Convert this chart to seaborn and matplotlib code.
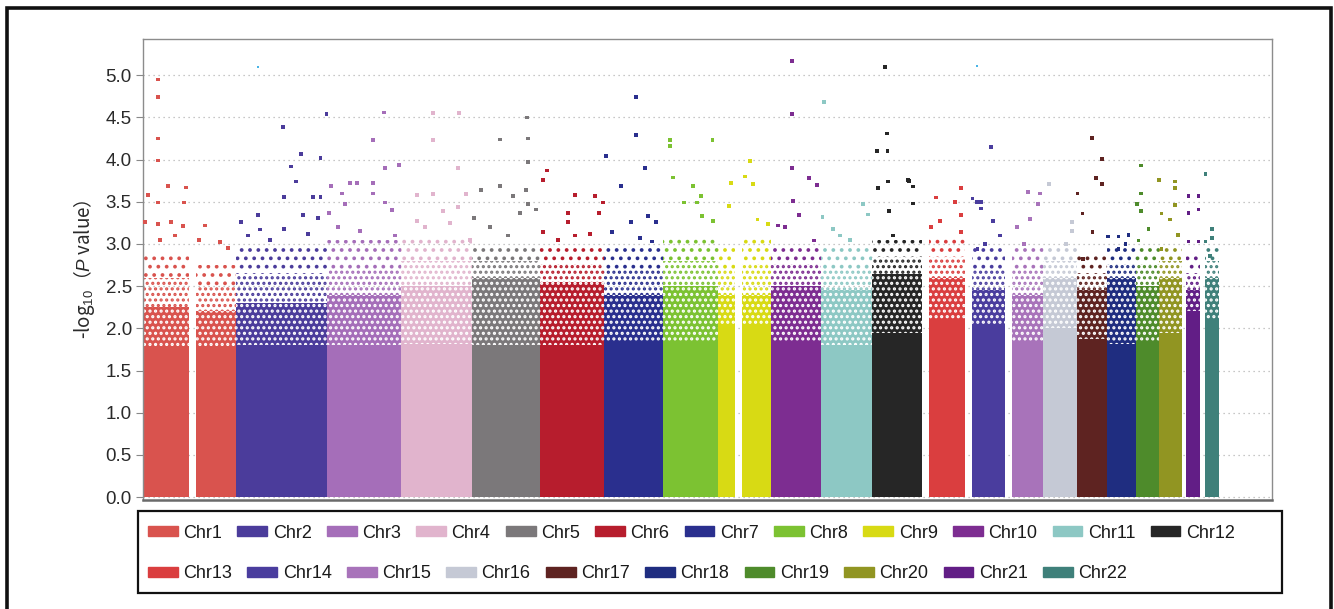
import numpy as np
import pandas as pd
import matplotlib
matplotlib.use("Agg")
import matplotlib.pyplot as plt
from matplotlib.patches import Patch, Rectangle
import seaborn as sns

# ---------------- data ----------------
chroms = [f"Chr{i}" for i in range(1, 23)]
chrom_colors = ["#D9534E", "#4B3C9B", "#A56EB9", "#E1B4CD", "#7B787A", "#B71D2D",
                "#2A2F8E", "#7CC232", "#D8DA14", "#7D2D91", "#8DC8C4", "#262626",
                "#DA3E3F", "#4A3D9E", "#A873BA", "#C5C9D5", "#5E2321", "#1F2D80",
                "#4E8B2B", "#919522", "#621E86", "#3F807A"]
chrom_len_mb = [249.25, 243.2, 198.0, 191.15, 180.9, 171.1, 159.1, 146.4, 141.2,
                135.5, 135.0, 133.85, 115.2, 107.3, 102.5, 90.35, 81.2, 78.1,
                59.1, 63.0, 48.1, 51.3]

# SNP-covered segments (Mb within chromosome) and the -log10 P levels of
# the solid core, the dense band, the medium band and the sparse band
seg_chrom = ["Chr1", "Chr1", "Chr2", "Chr3", "Chr4", "Chr5", "Chr6", "Chr7", "Chr8",
             "Chr9", "Chr9", "Chr10", "Chr11", "Chr12", "Chr13", "Chr14", "Chr15",
             "Chr16", "Chr17", "Chr18", "Chr19", "Chr20", "Chr21", "Chr22"]
seg_start = [0, 143, 0, 0, 0, 0, 0, 0, 0, 0, 65, 0, 0, 0, 19, 20, 20, 0, 0, 0, 0, 0, 9.5, 14]
seg_end = [122, 249.25, 243.2, 198.0, 191.15, 180.9, 171.1, 159.1, 146.4, 45, 141.2,
           135.5, 135.0, 133.85, 115.2, 107.3, 102.5, 90.35, 81.2, 78.1, 59.1, 63.0, 48.1, 51.3]
seg_solid = [1.78, 1.78, 1.80, 1.80, 1.82, 1.80, 1.80, 1.85, 1.85, 2.05, 2.05, 1.85,
             1.80, 1.95, 2.10, 2.05, 1.85, 2.00, 1.87, 1.82, 1.85, 1.95, 2.20, 2.10]
seg_dense = [2.25, 2.20, 2.30, 2.40, 2.50, 2.60, 2.55, 2.40, 2.50, 2.40, 2.40, 2.50,
             2.45, 2.65, 2.60, 2.45, 2.40, 2.60, 2.45, 2.60, 2.50, 2.60, 2.45, 2.60]
seg_medium = [2.60, 2.50, 2.65, 2.70, 2.80, 2.80, 2.75, 2.70, 2.80, 2.70, 2.75, 2.75,
              2.70, 2.85, 2.85, 2.70, 2.70, 2.80, 2.65, 2.75, 2.75, 2.80, 2.65, 2.80]
seg_sparse = [2.90, 2.75, 3.00, 3.05, 3.10, 3.00, 3.00, 3.00, 3.10, 3.00, 3.10, 3.00,
              3.00, 3.05, 3.10, 3.00, 3.00, 3.00, 2.90, 2.95, 3.00, 3.00, 2.90, 2.95]

# individual top SNPs (chromosome, position in Mb, -log10 P)
peak_chrom = (["Chr1"] * 19 + ["Chr2"] * 18 + ["Chr3"] * 17 + ["Chr4"] * 13 +
              ["Chr5"] * 14 + ["Chr6"] * 12 + ["Chr7"] * 11 + ["Chr8"] * 10 +
              ["Chr9"] * 7 + ["Chr10"] * 10 + ["Chr11"] * 7 + ["Chr12"] * 12 +
              ["Chr13"] * 7 + ["Chr14"] * 9 + ["Chr15"] * 6 + ["Chr16"] * 4 +
              ["Chr17"] * 8 + ["Chr18"] * 5 + ["Chr19"] * 6 + ["Chr20"] * 8 +
              ["Chr21"] * 6 + ["Chr22"] * 5)
peak_pos = [39.4, 39.4, 39.4, 39.4, 39.4, 39.4, 66.9, 13.4, 115.0, 109.8, 107.0, 5.4,
            75.0, 166.0, 150.0, 206.0, 85.7, 45.5, 227.0,
            125.5, 173.7, 226.2, 147.0, 160.3, 128.2, 205.0, 226.2, 58.6, 13.0, 178.3,
            218.4, 128.2, 64.0, 90.7, 32.0, 192.5, 242.0,
            152.7, 123.3, 155.3, 192.8, 10.8, 61.7, 79.6, 123.3, 123.3, 39.5, 48.3,
            155.3, 173.3, 5.5, 88.5, 29.6, 182.0,
            85.9, 85.9, 85.9, 155.5, 152.8, 152.8, 42.2, 174.2, 112.6, 43.0, 64.5, 131.3, 185.0,
            146.4, 74.1, 74.1, 148.2, 148.2, 148.2, 22.4, 108.9, 143.7, 170.4, 4.4, 127.6, 47.3, 95.5,
            18.9, 7.5, 94.0, 94.0, 147.5, 168.9, 158.2, 75.2, 75.2, 8.3, 134.1, 48.4,
            86.4, 86.4, 5.8, 110.3, 45.2, 139.7, 72.0, 21.1, 118.3, 96.9, 129.0,
            18.1, 18.1, 132.1, 26.1, 79.7, 101.1, 55.6, 90.4, 132.4, 103.7,
            85.8, 72.4, 93.8, 34.9, 29.6, 105.8, 133.9,
            56.3, 56.3, 56.3, 102.6, 123.2, 59.7, 75.8, 18.7, 115.9, 38.3,
            7.2, 110.8, 3.0, 31.2, 76.7, 125.0, 50.0,
            35.5, 40.1, 13.3, 41.7, 99.8, 109.7, 109.7, 42.8, 16.0, 45.5, 57.0, 97.1,
            105.1, 105.1, 105.1, 37.4, 49.0, 24.9, 89.0,
            70.3, 20.5, 32.7, 43.4, 43.4, 75.5, 33.5, 54.0, 94.3,
            61.2, 94.1, 88.0, 31.7, 51.3, 67.3,
            15.4, 76.9, 76.9, 61.0,
            39.7, 66.5, 66.5, 51.2, 1.1, 14.5, 41.2, 15.6,
            1.0, 29.7, 56.5, 29.7, 48.5,
            11.9, 11.9, 11.9, 1.0, 32.1, 5.3,
            1.0, 44.5, 44.5, 44.5, 7.6, 30.6, 52.1, 7.6,
            16.9, 16.9, 16.9, 43.6, 43.6, 43.6,
            14.5, 32.8, 32.8, 14.9, 26.5]
peak_val = [4.95, 4.74, 4.25, 3.99, 3.49, 3.24, 3.69, 3.58, 3.67, 3.49, 3.21, 3.26,
            3.26, 3.22, 3.05, 3.02, 3.10, 3.05, 2.95,
            4.39, 4.07, 4.02, 3.92, 3.74, 3.56, 3.56, 3.56, 3.34, 3.26, 3.34,
            3.31, 3.18, 3.17, 3.05, 3.10, 3.12, 4.54,
            4.56, 4.23, 3.90, 3.94, 3.69, 3.72, 3.72, 3.72, 3.60, 3.60, 3.47,
            3.49, 3.40, 3.37, 3.15, 3.20, 3.10,
            4.55, 4.23, 3.59, 4.55, 3.90, 3.44, 3.58, 3.59, 3.39, 3.27, 3.20, 3.25, 3.05,
            4.50, 4.24, 3.69, 4.25, 3.97, 3.47, 3.64, 3.57, 3.64, 3.41, 3.31, 3.37, 3.20, 3.10,
            3.87, 3.76, 3.58, 3.10, 3.57, 3.49, 3.37, 3.37, 3.26, 3.14, 3.12, 3.05,
            4.74, 4.29, 4.04, 3.90, 3.69, 3.26, 3.26, 3.14, 3.33, 3.07, 3.03,
            4.23, 4.16, 4.23, 3.79, 3.69, 3.57, 3.49, 3.49, 3.27, 3.33,
            3.98, 3.80, 3.71, 3.72, 3.45, 3.29, 3.24,
            5.17, 4.54, 3.90, 3.78, 3.70, 3.51, 3.34, 3.22, 3.04, 3.20,
            4.68, 3.47, 3.32, 3.18, 3.05, 3.35, 3.10,
            5.10, 4.31, 4.10, 4.10, 3.75, 3.68, 3.48, 3.74, 3.66, 3.39, 3.10, 3.76,
            3.66, 3.34, 3.14, 3.55, 3.27, 3.20, 3.50,
            4.15, 3.54, 3.50, 3.50, 3.42, 3.27, 2.94, 3.00, 3.10,
            3.62, 3.60, 3.47, 3.20, 3.00, 3.30,
            3.71, 3.26, 3.15, 3.00,
            4.26, 4.01, 3.71, 3.78, 3.60, 3.36, 3.14, 2.82,
            3.09, 3.09, 3.11, 2.94, 3.00,
            3.93, 3.60, 3.39, 3.47, 3.18, 3.04,
            3.76, 3.74, 3.66, 3.46, 3.36, 3.29, 3.11, 2.94,
            3.57, 3.37, 3.03, 3.57, 3.41, 3.03,
            3.83, 3.18, 3.07, 3.03, 2.86]

# two light-blue highlighted markers
mark_chrom = ["Chr2", "Chr14"]
mark_pos = [57.8, 32.0]
mark_val = [5.10, 5.11]

yticks = [0.0, 0.5, 1.0, 1.5, 2.0, 2.5, 3.0, 3.5, 4.0, 4.5, 5.0]
ylabel = "-log$_{10}$（$P$ value）"

# ---------------- derived tables ----------------
offsets = dict(zip(chroms, np.concatenate([[0], np.cumsum(chrom_len_mb)[:-1]])))
palette = dict(zip(chroms, chrom_colors))
segs = pd.DataFrame({"chrom": seg_chrom, "start": seg_start, "end": seg_end,
                     "solid": seg_solid, "dense": seg_dense, "medium": seg_medium,
                     "sparse": seg_sparse})
segs["x0"] = segs["start"] + segs["chrom"].map(offsets)
segs["w"] = segs["end"] - segs["start"]
peaks = pd.DataFrame({"chrom": peak_chrom, "pos": peak_pos, "val": peak_val})
peaks["x"] = peaks["pos"] + peaks["chrom"].map(offsets)
marks = pd.DataFrame({"chrom": mark_chrom, "pos": mark_pos, "val": mark_val})
marks["x"] = marks["pos"] + marks["chrom"].map(offsets)

# ---------------- style ----------------
sns.set_theme(style="white")
plt.rcParams["font.family"] = ["Liberation Sans", "DejaVu Sans"]
plt.rcParams["mathtext.fontset"] = "custom"
plt.rcParams["mathtext.rm"] = "Liberation Sans"
plt.rcParams["mathtext.it"] = "Liberation Sans:italic"
plt.rcParams["hatch.linewidth"] = 1.5

W, H = 1334, 609
fig = plt.figure(figsize=(W / 100, H / 100), dpi=100)
ax = fig.add_axes([143 / W, (H - 500) / H, 1129 / W, 461 / H])

for _, r in segs.iterrows():
    c = palette[r["chrom"]]
    # solid core
    ax.bar(r["x0"], r["solid"], width=r["w"], bottom=0, align="edge",
           color=c, linewidth=0, zorder=2)
    # dense band: colour with white gaps
    ax.bar(r["x0"], r["dense"] - r["solid"], width=r["w"], bottom=r["solid"],
           align="edge", facecolor=c, edgecolor="white", hatch="...",
           linewidth=0, zorder=2)
    # medium band: many scattered points
    ax.bar(r["x0"], r["medium"] - r["dense"], width=r["w"], bottom=r["dense"],
           align="edge", facecolor="none", edgecolor=c, hatch="...",
           linewidth=0, zorder=2)
    # sparse band: few scattered points
    ax.bar(r["x0"], r["sparse"] - r["medium"], width=r["w"], bottom=r["medium"],
           align="edge", facecolor="none", edgecolor=c, hatch="..",
           linewidth=0, zorder=2)

sns.scatterplot(data=peaks, x="x", y="val", hue="chrom", palette=palette,
                marker="s", s=7, linewidth=0, legend=False, ax=ax, zorder=3)
sns.scatterplot(data=marks, x="x", y="val", color="#49B4E6", marker="s", s=4,
                linewidth=0, legend=False, ax=ax, zorder=3)

ax.set_xlim(0, 3022)
ax.set_ylim(-0.035, 5.43)
ax.set_xticks([])
ax.set_yticks(yticks)
ax.set_yticklabels([f"{t:.1f}" for t in yticks], fontsize=13.5, color="#2a2a2a")
ax.tick_params(axis="y", direction="out", length=5, width=0.8, color="#888888", pad=3, left=True)
ax.set_xlabel("")
ax.set_ylabel(ylabel, fontsize=13.5, color="#2a2a2a", labelpad=6,
              family=["Noto Sans CJK SC", "DejaVu Sans"])
ax.set_axisbelow(True)
ax.grid(axis="y", color="#b5b5b5", linestyle=(0, (1, 3)), linewidth=0.9)
ax.grid(axis="x", visible=False)
for s in ["left", "right", "top"]:
    ax.spines[s].set_color("#8c8c8c")
    ax.spines[s].set_linewidth(1.0)
ax.spines["bottom"].set_color("#6a6a6a")
ax.spines["bottom"].set_linewidth(1.8)

# legends (two rows)
leg_kw = dict(loc="center left", frameon=False, fontsize=13, handlelength=1.65,
              handleheight=0.45, handletextpad=0.3, columnspacing=0.85,
              borderpad=0, borderaxespad=0)
h1 = [Patch(facecolor=palette[n], edgecolor=palette[n], label=n) for n in chroms[:12]]
h2 = [Patch(facecolor=palette[n], edgecolor=palette[n], label=n) for n in chroms[12:]]
leg1 = fig.legend(handles=h1, ncol=12, bbox_to_anchor=(148 / W, 1 - 533 / H), **leg_kw)
leg2 = fig.legend(handles=h2, ncol=10, bbox_to_anchor=(148 / W, 1 - 574 / H), **leg_kw)
for lg in (leg1, leg2):
    for t in lg.get_texts():
        t.set_color("#1a1a1a")

# legend frame and outer frame
fig.add_artist(Rectangle((138 / W, 1 - 593 / H), 1144 / W, 82 / H, transform=fig.transFigure,
                         fill=False, edgecolor="#111111", linewidth=1.6))
fig.add_artist(Rectangle((7 / W, -0.05), 1324 / W, 1 - 8 / H + 0.05, transform=fig.transFigure,
                         fill=False, edgecolor="#111111", linewidth=2.6))

fig.savefig("out.png", dpi=100)
